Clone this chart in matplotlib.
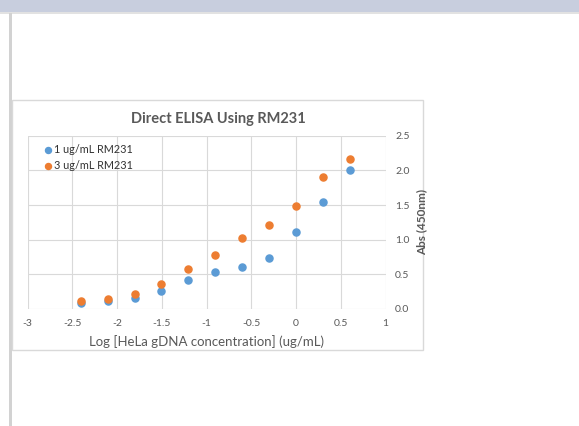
import matplotlib.pyplot as plt
from matplotlib.patches import Rectangle

# log of concentration (ug/mL), two-fold dilutions
log_conc = [-2.408, -2.107, -1.806, -1.505, -1.204, -0.903, -0.602, -0.301, 0.0, 0.301, 0.602]
abs_1ug = [0.08, 0.11, 0.16, 0.26, 0.42, 0.53, 0.61, 0.74, 1.11, 1.55, 2.01]
abs_3ug = [0.11, 0.14, 0.22, 0.36, 0.58, 0.78, 1.03, 1.21, 1.49, 1.91, 2.16]

x_ticks = [-3, -2.5, -2, -1.5, -1, -0.5, 0, 0.5, 1]
x_tick_labels = ["-3", "-2.5", "-2", "-1.5", "-1", "-0.5", "0", "0.5", "1"]
y_ticks = [0.0, 0.5, 1.0, 1.5, 2.0, 2.5]

BLUE = "#5B9BD5"
ORANGE = "#ED7D31"
TEXT = "#595959"
GRID = "#D9D9D9"

plt.rcParams['font.family'] = ['Lato', 'DejaVu Sans']

W, H = 579, 426
fig = plt.figure(figsize=(W / 100, H / 100), dpi=100)

def px(x0, y0, x1, y1):
    # pixel box (top-left origin) -> figure fraction rect
    return [x0 / W, 1 - y1 / H, (x1 - x0) / W, (y1 - y0) / H]

def add_box(box, **kw):
    r = px(*box)
    fig.patches.append(Rectangle((r[0], r[1]), r[2], r[3], transform=fig.transFigure,
                                 zorder=-5, **kw))

# window chrome of the screenshot
add_box((0, 0, W, 12), facecolor="#C8CEDE", edgecolor="none")
add_box((0, 12, W, 13.5), facecolor="#E2E2E2", edgecolor="none")
add_box((8.5, 13, 11.5, H), facecolor="#D2D2D2", edgecolor="none")
# chart area border
add_box((11.5, 100, 423, 350), facecolor="white", edgecolor=GRID, linewidth=1.0)

ax = fig.add_axes(px(27.7, 135.7, 385.5, 309))
ax.set_facecolor("none")
ax.scatter(log_conc, abs_1ug, s=26, color=BLUE, label="1 ug/mL RM231", zorder=3)
ax.scatter(log_conc, abs_3ug, s=26, color=ORANGE, label="3 ug/mL RM231", zorder=3)

ax.set_xlim(-3, 1)
ax.set_ylim(0, 2.5)
ax.set_xticks(x_ticks)
ax.set_xticklabels(x_tick_labels)
ax.set_yticks(y_ticks)
ax.set_yticklabels([f"{v:.1f}" for v in y_ticks])
ax.yaxis.tick_right()
ax.yaxis.set_label_position("right")
ax.tick_params(axis="both", length=0, labelsize=7.5, labelcolor=TEXT)
ax.tick_params(axis="x", pad=7)
ax.tick_params(axis="y", pad=7)
ax.grid(True, color=GRID, linewidth=0.8)
ax.set_axisbelow(True)
for s in ax.spines.values():
    s.set_visible(False)

ax.set_xlabel("Log [HeLa gDNA concentration] (ug/mL)", fontsize=9.5, color=TEXT, labelpad=5)
ax.set_ylabel("Abs (450nm)", fontsize=8.5, color=TEXT, fontweight="bold", labelpad=5)

fig.text(218 / W, 1 - 119 / H, "Direct ELISA Using RM231", ha="center", va="center",
         fontsize=10.5, fontweight="bold", color=TEXT)

leg = ax.legend(loc="upper left", bbox_to_anchor=(0.03, 0.978), frameon=False,
                fontsize=7.8, handletextpad=0.05, labelspacing=0.5,
                borderaxespad=0, handlelength=1.0, markerscale=0.85)
for t in leg.get_texts():
    t.set_color("#333333")

fig.savefig("out.png", dpi=100)
